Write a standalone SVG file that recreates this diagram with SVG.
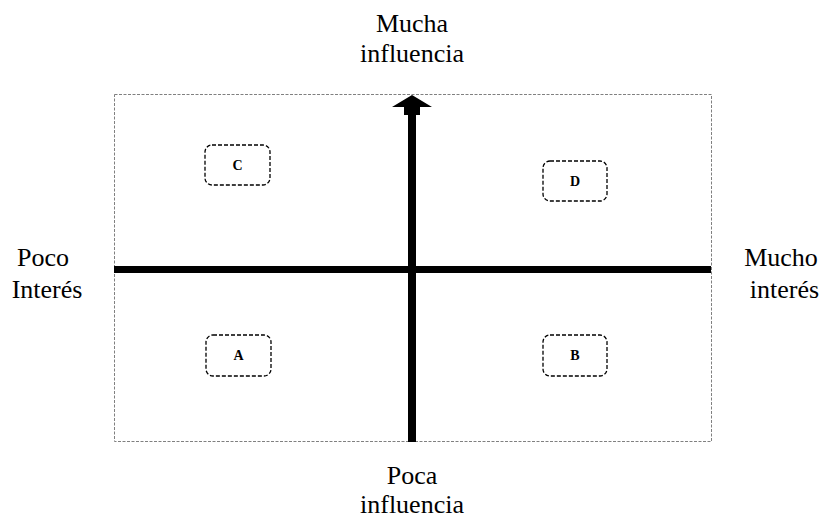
<svg xmlns="http://www.w3.org/2000/svg" width="825" height="518" viewBox="0 0 825 518">
<style>
.lbl{font-family:"Liberation Serif","Times New Roman",serif;font-size:26px;fill:#000;text-anchor:middle}
.box{fill:#fff;stroke:#000;stroke-width:1.3;stroke-dasharray:4 2}
.let{font-family:"Liberation Serif","Times New Roman",serif;font-size:14px;font-weight:bold;fill:#000;text-anchor:middle}
</style>
<rect width="825" height="518" fill="#fff"/>
<rect id="frame" x="114.5" y="94.5" width="597" height="347" fill="none" stroke="#808080" stroke-width="1" stroke-dasharray="3 1.5"/>
<g id="connectors">
<rect x="114" y="266" width="597" height="7" fill="#000"/>
<rect x="408" y="110" width="8" height="332" fill="#000"/>
<polygon points="412,95 432,107 420,107 420,115 404,115 404,107 392,107" fill="#000"/>
</g>
<g id="top-label"><text class="lbl" x="412" y="32">Mucha</text><text class="lbl" x="412" y="62">influencia</text></g>
<g id="bottom-label"><text class="lbl" x="412" y="484">Poca</text><text class="lbl" x="412" y="513">influencia</text></g>
<g id="left-label"><text class="lbl" x="43" y="266">Poco</text><text class="lbl" x="47" y="298">Interés</text></g>
<g id="right-label"><text class="lbl" x="781" y="266">Mucho</text><text class="lbl" x="784.5" y="298">interés</text></g>
<g id="node-C"><rect class="box" x="205" y="145" width="65" height="40" rx="7"/><text class="let" x="237.5" y="170">C</text></g>
<g id="node-D"><rect class="box" x="543" y="161" width="64" height="40" rx="7"/><text class="let" x="575" y="186">D</text></g>
<g id="node-A"><rect class="box" x="206" y="335" width="65" height="41" rx="7"/><text class="let" x="238.5" y="360">A</text></g>
<g id="node-B"><rect class="box" x="543" y="335" width="64" height="41" rx="7"/><text class="let" x="575" y="360">B</text></g>
</svg>
